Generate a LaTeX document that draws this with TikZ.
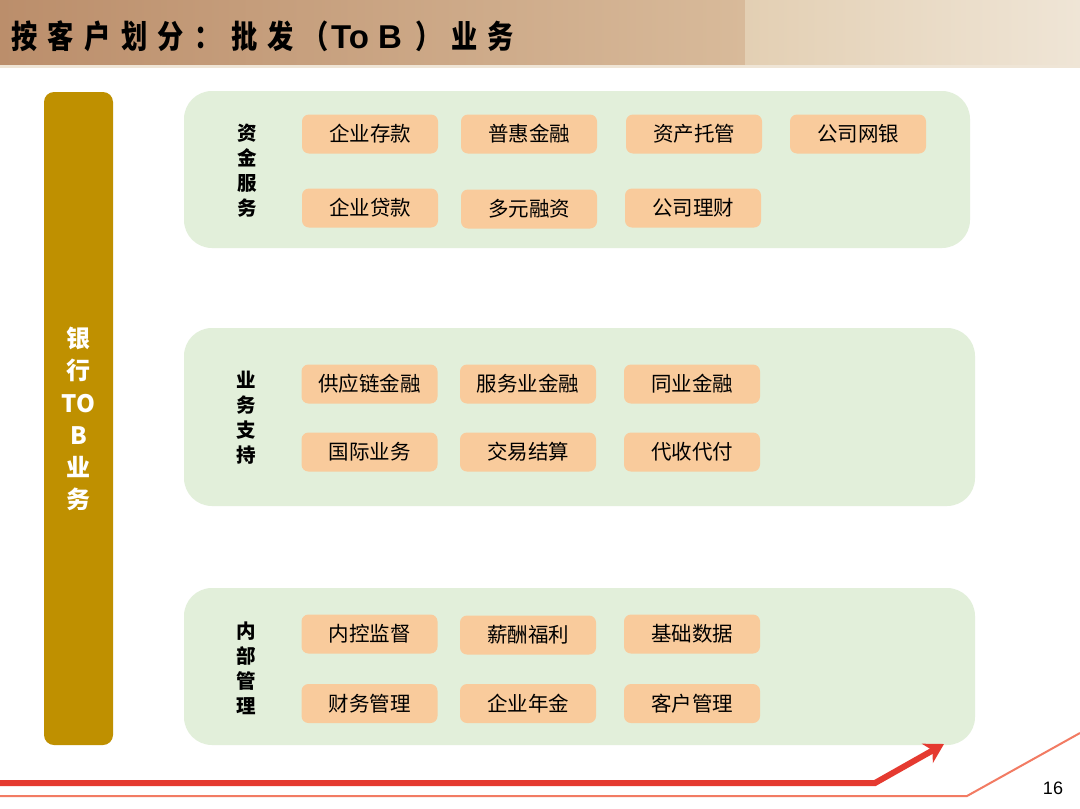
\documentclass[tikz,border=0pt]{standalone}
\usepackage{fontspec}
\setmainfont{Liberation Sans}
\newfontfamily\cjk{Noto Sans CJK SC}
\newfontfamily\titlefont{Noto Sans CJK SC}[FakeStretch=0.82, LetterSpace=32.5]
\newfontfamily\titlelatin{Liberation Sans}
\usetikzlibrary{arrows.meta}
\definecolor{greenc}{HTML}{E2EFDA}
\definecolor{boxc}{HTML}{F9CB9C}
\definecolor{goldc}{HTML}{BF9000}
\definecolor{redc}{HTML}{E53A30}
\definecolor{thinc}{HTML}{F27B63}
\definecolor{tl1}{HTML}{BB8E6B}
\definecolor{tl2}{HTML}{D8BA9A}
\definecolor{tr1}{HTML}{E3CFB3}
\definecolor{tr2}{HTML}{EFE5D6}
\tikzset{
  tag/.style={fill=boxc, rounded corners=7pt, minimum width=136pt, minimum height=39pt, inner sep=0pt, font=\cjk\fontsize{20.5}{20.5}\selectfont, text=black},
  panel/.style={fill=greenc, rounded corners=28pt, inner sep=0pt},
  plabel/.style={align=center, font=\cjk\bfseries\fontsize{19.5}{25}\selectfont, text=black, inner sep=0pt},
}
\begin{document}
\begin{tikzpicture}[x=1pt,y=-1pt]
\useasboundingbox (0,0) rectangle (1080,809);
\fill[white] (0,0) rectangle (1080,809);
% title bar
\shade[left color=tl1, right color=tl2] (0,0) rectangle (745,65);
\shade[left color=tr1, right color=tr2] (745,0) rectangle (1080,65);
\fill[tr2] (0,65) rectangle (1080,68);
\node[anchor=west, inner sep=0pt, font=\bfseries\fontsize{32}{32}\selectfont] (title) at (11,36) {{\titlefont 按客户划分：批发}\hspace{9pt}{\titlefont （}\hspace{2pt}{\titlelatin\fontsize{33}{33}\selectfont To B}\hspace{13pt}{\titlefont ）}\hspace{10pt}{\titlefont 业务}};
% gold bar
\node[fill=goldc, rounded corners=10pt, minimum width=69pt, minimum height=653pt, inner sep=0pt] (bar) at (78.5,418.5) {};
\node[align=center, text=white, font=\cjk\bfseries\fontsize{24}{32.2}\selectfont, inner sep=0pt] (bartext) at (78.5,419) {银\\行\\TO\\B\\业\\务};
% panels
\node[panel, minimum width=786pt, minimum height=157pt] (p1) at (577,169.5) {};
\node[panel, minimum width=791pt, minimum height=178pt] (p2) at (579.5,417) {};
\node[panel, minimum width=791pt, minimum height=157pt] (p3) at (579.5,666.5) {};
% panel labels
\node[plabel] (l1) at (247,170.5) {资\\金\\服\\务};
\node[plabel] (l2) at (246,417.5) {业\\务\\支\\持};
\node[plabel] (l3) at (246,668) {内\\部\\管\\理};
% panel 1 tags
\node[tag] (a1) at (370,134) {企业存款};
\node[tag] (a2) at (529,134) {普惠金融};
\node[tag] (a3) at (694,134) {资产托管};
\node[tag] (a4) at (858,134) {公司网银};
\node[tag] (a5) at (370,208) {企业贷款};
\node[tag] (a6) at (529,209) {多元融资};
\node[tag] (a7) at (693,208) {公司理财};
% panel 2 tags
\node[tag] (b1) at (369.5,384) {供应链金融};
\node[tag] (b2) at (528,384) {服务业金融};
\node[tag] (b3) at (692,384) {同业金融};
\node[tag] (b4) at (369.5,452) {国际业务};
\node[tag] (b5) at (528,452) {交易结算};
\node[tag] (b6) at (692,452) {代收代付};
% panel 3 tags
\node[tag] (c1) at (369.5,634) {内控监督};
\node[tag] (c2) at (528,635) {薪酬福利};
\node[tag] (c3) at (692,634) {基础数据};
\node[tag] (c4) at (369.5,703.5) {财务管理};
\node[tag] (c5) at (528,703.5) {企业年金};
\node[tag] (c6) at (692,703.5) {客户管理};
% bottom lines
\coordinate (r0) at (0,783);
\coordinate (r1) at (875,783);
\coordinate (r2) at (944,744);
\draw[redc, line width=6pt, -{Stealth[length=19pt,width=22pt,inset=6pt]}] (r0) -- (r1) -- (r2);
\coordinate (t0) at (0,796);
\coordinate (t1) at (967,796);
\coordinate (t2) at (1080,733);
\draw[thinc, line width=2pt] (t0) -- (t1) -- (t2);
\node[font=\fontsize{18}{18}\selectfont, inner sep=0pt] (page) at (1053,788) {16};
\end{tikzpicture}
\end{document}
